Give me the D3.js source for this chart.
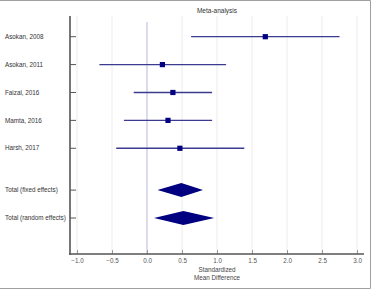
<!DOCTYPE html>
<html>
<head>
<meta charset="utf-8">
<script src="https://cdn.jsdelivr.net/npm/d3@7"></script>
<style>
  html, body { margin: 0; padding: 0; background: #fff; }
  svg { display: block; font-family: "Liberation Sans", Arial, sans-serif; }
</style>
</head>
<body>
<svg id="chart" width="374" height="291"></svg>
<script>
// ---- data ----
const studies = ["Asokan, 2008", "Asokan, 2011", "Faizal, 2016", "Mamta, 2016", "Harsh, 2017"];
const effect  = [1.69, 0.22, 0.37, 0.30, 0.47];
const ciLow   = [0.63, -0.68, -0.19, -0.33, -0.44];
const ciHigh  = [2.75, 1.13, 0.93, 0.93, 1.39];
const pooledLabels = ["Total (fixed effects)", "Total (random effects)"];
const pooledEffect = [0.49, 0.52];
const pooledLow    = [0.15, 0.10];
const pooledHigh   = [0.80, 0.96];
const xTicks = [-1.0, -0.5, 0.0, 0.5, 1.0, 1.5, 2.0, 2.5, 3.0];
const rowIndex = [0, 1, 2, 3, 4, 5.5, 6.5];

// ---- layout ----
const W = 374, H = 291;
const pLeft = 70, pRight = 364, pTop = 16, pBottom = 254;
const svg = d3.select("#chart");

const x = d3.scaleLinear().domain([-1, 3]).range([77, 357]);
const y = d3.scaleLinear().domain([0, 6.5]).range([36.7, 218]);

// frame
svg.append("path")
  .attr("d", `M0,0.5 H${W-3.5} V${H-2.5} H0`)
  .attr("fill", "none").attr("stroke", "#a0a0a0").attr("stroke-width", 1);

// gridlines
svg.append("g").selectAll("line").data(xTicks.filter(d => d !== 0)).join("line")
  .attr("x1", d => x(d)).attr("x2", d => x(d))
  .attr("y1", pTop).attr("y2", pBottom)
  .attr("stroke", "#ececec").attr("stroke-width", 1);

// zero line
svg.append("line")
  .attr("x1", x(0)).attr("x2", x(0)).attr("y1", 22).attr("y2", pBottom)
  .attr("stroke", "#c4c4e4").attr("stroke-width", 1.2);

// title
svg.append("text").attr("x", 217).attr("y", 13).attr("text-anchor", "middle")
  .attr("font-size", 6.5).attr("fill", "#333").text("Meta-analysis");

// x axis
const xAxis = d3.axisBottom(x).tickValues(xTicks).tickFormat(d3.format(".1f"))
  .tickSize(0).tickPadding(5);
const gx = svg.append("g").attr("transform", `translate(0,${pBottom})`).call(xAxis);
gx.select(".domain").remove();
gx.selectAll("text").attr("font-size", 6.3).attr("fill", "#555")
  .attr("font-family", "Liberation Sans, Arial, sans-serif");
gx.selectAll(".tick").append("line")
  .attr("y1", -4).attr("y2", 0).attr("stroke", "#999").attr("stroke-width", 1);
svg.append("line").attr("x1", pLeft - 1).attr("x2", pRight)
  .attr("y1", pBottom).attr("y2", pBottom)
  .attr("stroke", "#555").attr("stroke-width", 1.6);

// x axis title
svg.append("text").attr("x", 217).attr("y", 272).attr("text-anchor", "middle")
  .attr("font-size", 6.3).attr("fill", "#444").text("Standardized");
svg.append("text").attr("x", 217).attr("y", 279.5).attr("text-anchor", "middle")
  .attr("font-size", 6.3).attr("fill", "#444").text("Mean Difference");

// y axis
const allLabels = studies.concat(pooledLabels);
svg.append("line").attr("x1", pLeft).attr("x2", pLeft)
  .attr("y1", pTop).attr("y2", pBottom + 0.8)
  .attr("stroke", "#555").attr("stroke-width", 1.6);
svg.append("g").selectAll("line").data(rowIndex).join("line")
  .attr("x1", pLeft).attr("x2", pLeft + 6)
  .attr("y1", d => y(d)).attr("y2", d => y(d))
  .attr("stroke", "#555").attr("stroke-width", 1);
svg.append("g").selectAll("text").data(allLabels).join("text")
  .attr("x", 5).attr("y", (d, i) => y(rowIndex[i]))
  .attr("dy", "0.35em").attr("font-size", 6.3).attr("fill", "#333")
  .text(d => d);

// CI lines
svg.append("g").selectAll("line").data(studies).join("line")
  .attr("x1", (d, i) => x(ciLow[i])).attr("x2", (d, i) => x(ciHigh[i]))
  .attr("y1", (d, i) => y(rowIndex[i])).attr("y2", (d, i) => y(rowIndex[i]))
  .attr("stroke", "#3b3b8f").attr("stroke-width", 1.3);

// squares
const sq = 5.2;
svg.append("g").selectAll("rect").data(studies).join("rect")
  .attr("x", (d, i) => x(effect[i]) - sq / 2)
  .attr("y", (d, i) => y(rowIndex[i]) - sq / 2)
  .attr("width", sq).attr("height", sq)
  .attr("fill", "#000080");

// diamonds
const hh = 7;
svg.append("g").selectAll("path").data(pooledLabels).join("path")
  .attr("d", (d, i) => {
    const cy = y(rowIndex[5 + i]);
    return `M${x(pooledLow[i])},${cy} L${x(pooledEffect[i])},${cy - hh} L${x(pooledHigh[i])},${cy} L${x(pooledEffect[i])},${cy + hh} Z`;
  })
  .attr("fill", "#000080");
</script>
</body>
</html>
